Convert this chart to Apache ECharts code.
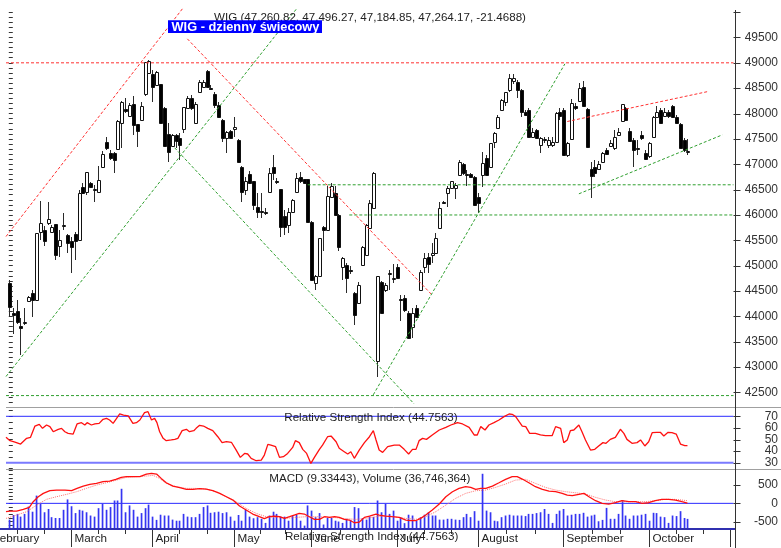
<!DOCTYPE html>
<html><head><meta charset="utf-8">
<script src="https://cdn.jsdelivr.net/npm/echarts@6/dist/echarts.min.js"></script>
<style>html,body{margin:0;padding:0;background:#fff}#c{width:781px;height:548px}</style>
</head><body><div id="c"></div>
<script>
// ---------- calendar (trading days, GPW 2016) ----------
const calendarStart = '2016-02-01';
const firstCandleDate = '2016-02-08';
const calendarEnd = '2016-12-02';
const holidays = ['2016-03-25','2016-03-28','2016-05-03','2016-05-26','2016-08-15','2016-11-01','2016-11-11'];
const monthNames = ['January','February','March','April','May','June','July','August','September','October','November','December'];
const labelMonths = [1,2,3,4,5,6,7,8,9]; // Feb..Oct shown

// ---------- WIG daily candles (from 2016-02-08) ----------
const open = [44668,44071,44110,43815,43874,44313,44459,44327,45674,45707,45851,45674,45820,45392,45796,45609,45477,45628,45510,46561,46462,46640,46506,46462,46943,47436,47220,47220,47298,47811,48093,47961,48186,47791,47876,48383,48797,48777,48566,48580,48119,47594,47369,47580,47515,47699,48119,48304,47811,48422,48533,48842,48507,48383,48172,47876,47515,47659,47699,47482,46955,46496,46811,46660,46167,46072,46068,46462,46955,46664,46510,45970,45806,46068,46462,46758,46707,46707,45871,44668,44800,45772,45707,46364,46431,46003,44984,45017,44909,44459,44262,45017,45215,45741,46135,43111,44688,44524,44850,44751,44984,44347,44361,44077,43801,44164,44524,44984,45169,45215,45248,45741,46265,46431,46530,46530,46792,47008,46815,46811,46758,46364,46792,47121,46955,47448,47712,48073,48237,48468,48645,48631,48468,48040,48073,47535,47679,47383,47490,47383,47383,47448,48034,48073,47186,47496,48152,48257,48533,48087,46904,46955,46904,47054,47285,47364,47318,47580,47862,48107,47659,47482,47324,47580,47220,47153,47535,47929,48073,47955,48040,48152,47929,47797,47482,47260.82];
const close = [44183,44031,43880,43775,43880,44380,44327,45642,45839,45477,45918,45772,45215,45510,45806,45445,45378,45496,46443,46431,46857,46549,46510,46693,47206,47318,47121,47088,47862,48225,48054,48172,47778,47659,48158,49014,49039,48533,48828,47811,47369,47251,47567,47462,47383,48138,48304,48119,48186,48612,48631,48533,48497,48172,47941,47527,47645,47515,47744,47054,46462,46660,46628,46200,46049,46062,46062,46825,46825,46654,45772,45772,46068,46299,46727,46660,46628,45871,44722,44800,45544,45707,46378,46575,46003,45378,45149,44755,44899,44032,44623,45378,45806,46234,46837,44800,44065,44623,44860,44761,44755,44337,44130,43572,44077,43998,44885,45149,45037,45260,45544,46135,46234,46530,46660,46595,47054,46837,46811,46758,46200,46234,47022,46792,47417,47626,47941,48270,48415,48698,48704,48468,48040,47975,47547,47645,47515,47515,47496,47482,47448,48008,47955,47186,47417,48217,48107,48501,48152,47338,46772,46825,47008,47220,47206,47417,47547,47645,48186,47876,47462,47285,47314,47515,47101,47417,47929,48040,47811,48040,47955,47929,47811,47318,47285,47264.17];
const high = [44708,44170,44327,43972,44170,44406,44511,45654,46279,45773,46259,45806,45826,45707,46048,45628,45575,45674,46496,46634,46857,46650,46595,46969,47271,47547,47285,47245,47876,48251,48316,48211,48336,47797,48237,49020,49049,48862,48842,48586,48138,47811,47600,47600,47614,48138,48336,48369,48225,48665,48665,48852,48566,48434,48237,47896,47659,47679,47941,47502,46969,46758,46876,46674,46443,46431,46135,46924,47186,46733,46516,46102,46135,46319,46825,46857,46713,46713,45875,44820,45550,45786,46575,46628,46575,46023,45175,45057,44998,44491,44688,45392,45826,46299,46845,44800,44692,44662,44919,45037,45037,44426,44426,44097,44164,44229,44919,45260,45260,45457,45654,46246,46279,46575,46660,46634,47088,47028,46890,46831,46772,46431,47251,47186,47423,47640,47975,48290,48428,48783,48783,48665,48487,48073,48113,47718,47699,47541,47541,47547,47541,48040,48113,48113,47442,48290,48211,48600,48651,48113,47054,47088,47068,47245,47324,47482,47679,47718,48192,48132,47718,47521,47482,47659,47285,47442,47955,48152,48113,48113,48073,48172,47975,47817,47521,47496.27];
const low = [43998,43657,43854,43243,43834,44308,43986,44317,45510,45392,45806,45668,45116,45181,45707,45248,44854,45116,45490,46417,46398,46536,46246,46457,46943,47285,47088,46837,47285,47318,48014,47935,47580,47350,47856,48336,48783,48237,48546,47797,47354,47042,47344,47318,47088,47620,48113,48073,47797,48408,48527,48527,48468,48119,47935,47448,47220,47502,47547,47048,46265,46398,46614,46102,45938,45938,46003,46457,46693,46614,45575,45609,45642,46062,46457,46640,46614,45865,44712,44524,44781,45280,45688,46358,45993,45280,44722,44459,44840,43834,44248,44998,45195,45727,46121,42815,44051,44485,44524,44662,44741,43900,44091,43558,43578,43972,44505,44854,44854,45051,45234,45727,46220,46167,46516,46313,46772,46792,46575,46733,46180,46037,46561,46772,46949,47318,47699,48054,48152,48428,48586,48304,47941,47955,47541,47521,47502,47231,47423,47324,47344,47442,47876,47166,47141,47482,48073,48251,48133,47324,46332,46758,46892,47028,47186,47344,47285,47561,47856,47856,47442,46943,47186,47482,47088,47127,47521,47916,47797,47935,47916,47916,47797,47305,47245,47184.85];
// volume, millions of shares
const volume = [34,51,55,45,55,82,63,122,92,61,73,43,40,40,70,108,83,58,70,67,61,49,45,76,92,70,80,104,104,147,61,86,70,45,58,76,89,45,33,52,49,49,34,30,30,55,45,43,43,55,80,86,59,61,63,58,61,45,30,51,30,70,45,39,43,37,22,49,63,55,45,45,30,47,51,30,12,86,67,43,58,16,40,40,30,27,22,37,33,80,76,40,34,45,44,104,61,92,55,67,30,43,21,52,49,30,43,52,61,49,49,34,34,37,37,34,33,43,55,43,65,30,202,67,61,30,28,43,49,52,49,49,49,47,55,55,58,61,73,55,22,55,67,73,49,52,55,55,59,45,49,52,28,33,77,37,37,55,106,49,37,49,49,52,55,30,59,58,45,43,22,49,47,65,40,36.7];

// ---------- indicators, read as [day position, value] ----------
const rsiPts = [[-0.72,51.9],[0.31,49.0],[1.6,47.8],[3.05,46.1],[4.6,51.0],[5.6,51.9],[6.74,61.6],[7.86,63.1],[8.7,59.6],[9.74,62.5],[10.6,61.1],[11.46,56.7],[12.75,58.8],[13.6,59.6],[14.46,56.7],[15.3,55.3],[16.6,54.7],[17.6,63.4],[18.75,64.5],[19.6,62.5],[20.2,64.5],[21.3,62.5],[22.2,63.4],[23.3,63.9],[24.3,67.4],[25.2,68.2],[26.0,66.8],[26.9,63.9],[27.8,68.2],[28.6,72.0],[29.6,71.1],[30.8,70.3],[32.0,63.9],[32.9,64.5],[33.8,66.8],[35.0,73.1],[35.9,74.0],[36.8,66.8],[37.6,68.2],[38.2,64.5],[38.9,56.7],[39.8,51.0],[40.6,49.0],[41.9,49.6],[42.8,50.1],[43.6,51.0],[44.7,57.6],[45.8,58.8],[46.6,56.7],[47.7,57.6],[48.3,59.6],[49.2,62.2],[50.2,61.6],[51.3,59.6],[52.6,57.6],[53.9,52.4],[55.0,47.3],[56.1,48.1],[57.4,47.6],[58.6,41.0],[59.7,34.6],[60.8,38.0],[61.6,37.5],[62.5,33.8],[63.8,31.7],[65.1,32.3],[65.9,36.6],[66.8,45.8],[67.6,45.2],[68.8,43.8],[69.8,34.6],[70.8,35.2],[71.9,38.0],[73.2,43.2],[73.9,49.0],[74.9,47.3],[75.8,41.5],[76.8,38.0],[77.9,29.4],[78.8,34.6],[80.1,41.5],[80.9,45.2],[81.4,46.7],[82.2,52.4],[83.1,53.0],[84.4,48.1],[85.2,42.4],[86.5,39.5],[87.4,37.5],[88.2,39.5],[89.1,33.8],[90.4,41.0],[91.7,47.3],[93.0,52.4],[94.0,57.6],[94.7,49.6],[95.5,40.9],[96.4,38.9],[97.7,43.8],[99.4,45.2],[100.7,45.2],[101.95,41.5],[103.1,37.5],[104.1,41.5],[105.0,41.5],[105.8,49.0],[106.7,51.0],[107.7,50.1],[109.2,53.9],[111.0,58.2],[112.7,60.5],[114.0,62.5],[114.8,63.4],[115.7,64.5],[117.0,63.4],[118.7,60.5],[120.0,53.9],[120.8,53.9],[121.7,61.1],[122.8,58.2],[123.8,62.5],[125.1,64.5],[126.4,66.8],[127.7,69.7],[129.0,72.0],[129.8,71.7],[130.7,69.7],[131.6,65.4],[132.4,61.6],[133.3,61.1],[134.3,55.3],[135.8,55.3],[137.1,53.9],[138.4,53.3],[140.1,53.3],[141.0,61.1],[142.3,59.6],[143.1,47.3],[144.0,49.6],[144.8,57.6],[145.7,58.2],[147.0,62.5],[147.8,56.7],[148.7,49.6],[150.0,40.9],[151.1,41.5],[152.1,44.4],[153.2,47.3],[154.0,46.7],[155.1,50.1],[156.4,51.9],[157.7,58.8],[158.6,55.3],[159.4,50.1],[160.7,46.7],[162.0,47.3],[162.9,49.6],[164.0,44.4],[165.0,48.1],[165.9,55.9],[167.1,56.2],[168.0,56.2],[168.9,53.0],[170.0,56.2],[171.0,55.9],[172.1,54.7],[173.2,46.1],[174.3,44.7],[175.0,44.76]];
const macdPts = [[-0.72,-229],[0.31,-211],[2.0,-211],[3.74,-165],[5.3,-110],[6.3,45],[7.6,182],[8.9,273],[10.6,346],[12.3,364],[14.5,364],[16.2,346],[17.6,410],[19.2,474],[20.9,520],[22.6,547],[24.3,593],[26,611],[27.6,657],[29,711],[30.3,730],[32,730],[33.8,730],[35.5,803],[36.8,821],[38.1,803],[39.3,684],[40.6,565],[42.3,474],[44.1,428],[45.8,383],[47.5,383],[49.2,401],[50.9,392],[52.6,346],[54.4,273],[56.1,182],[57.8,90],[59.5,-74],[61.2,-183],[62.9,-293],[64.6,-366],[65.9,-421],[67.2,-366],[68.5,-348],[69.8,-366],[71.1,-412],[72.4,-366],[73.6,-320],[74.9,-275],[76.2,-293],[77.5,-366],[78.8,-439],[80.1,-439],[81.4,-366],[82.7,-384],[84,-366],[85.2,-384],[86.5,-439],[87.8,-457],[89.1,-531],[90.4,-512],[91.7,-384],[93,-348],[94.7,-293],[95.5,-320],[97.2,-348],[98.9,-366],[100.7,-384],[102.4,-457],[103.7,-476],[104.9,-476],[106.2,-412],[107.5,-320],[109.2,-184],[111,-19],[112.7,182],[114.4,319],[116.1,410],[117.8,456],[119.1,437],[120.4,383],[121.7,410],[123,410],[124.7,474],[126.4,565],[128.1,657],[129.8,730],[131.1,730],[132.4,666],[134.1,565],[135.8,456],[137.6,383],[139.3,337],[141,319],[142.7,273],[144,227],[145.3,209],[147,246],[148.3,273],[149.6,182],[151.3,72],[153,-1],[154.7,-19],[156.4,17],[158.1,72],[159.9,45],[161.6,45],[163.3,-1],[165,17],[166.7,72],[168.4,109],[170.2,109],[171.9,90],[173.6,45],[175,9.3]];
const signalPts = [[-0.72,-412],[2.0,-320],[4.6,-229],[7.2,-47],[9.7,109],[12.3,182],[14.9,246],[17.5,319],[20,410],[22.6,501],[25.2,565],[27.8,638],[30.3,711],[32.9,730],[35.5,748],[37.2,766],[38.9,684],[40.6,547],[43.2,456],[45.8,410],[48.3,410],[50.9,392],[53.5,319],[56.1,182],[58.6,45],[61.2,-138],[63.8,-275],[66.4,-366],[68.9,-384],[71.5,-412],[74.1,-384],[76.7,-366],[80.1,-366],[83.5,-384],[87,-421],[89.5,-439],[92.1,-412],[94.7,-366],[97.2,-348],[98.9,-366],[102.4,-412],[104.9,-439],[107.5,-366],[110.1,-229],[112.7,-47],[115.2,136],[117.8,273],[120.4,346],[123,364],[125.5,437],[128.1,529],[130.7,638],[133.3,657],[135.8,547],[138.4,437],[141,364],[143.6,319],[146.1,291],[148.7,255],[151.3,164],[153.9,90],[156.4,45],[159,45],[161.6,45],[164.1,45],[166.7,72],[169.3,109],[171.9,109],[173.6,90],[175,72]];

// ---------- drawn trend lines, [day position, index value] ----------
const redLines = [[[-0.72,49000],[186.87,49000]],[[-0.72,45575],[44.9,50078]],[[46.04,49473],[109.1,44426]],[[144.0,47843],[180.3,48434]]];
const greenLines = [[[-0.72,42815],[74.4,50084]],[[42.77,47324],[104.5,42277]],[[93.98,42454],[143.4,48980]],[[77.07,46595],[186.87,46595]],[[87.8,46000],[186.87,46000]],[[-0.72,42439],[186.87,42439]],[[147.0,46417],[184.0,47580]]];

// ---------- axis ticks ----------
const mainMajor = [42500,43000,43500,44000,44500,45000,45500,46000,46500,47000,47500,48000,48500,49000,49500,50000];
const rsiMajor = [30,40,50,60,70];
const macdMajor = [-500,0,500];

// ---------- texts ----------
const titleText = 'WIG (47,260.82, 47,496.27, 47,184.85, 47,264.17, -21.4688)';
const boxText = 'WIG - dzienny świecowy';
const rsiText = 'Relative Strength Index (44.7563)';
const macdText = 'MACD (9.33443), Volume (36,746,364)';

// ===== build trading calendar =====
function ds(d){return d.toISOString().slice(0,10);}
const days = [];
for (let d = new Date(calendarStart+'T00:00:00Z'); ds(d) <= calendarEnd; d.setUTCDate(d.getUTCDate()+1)) {
  const wd = d.getUTCDay();
  if (wd === 0 || wd === 6) continue;
  if (holidays.includes(ds(d))) continue;
  days.push(ds(d));
}
const offset = days.indexOf(firstCandleDate);
const monthStart = {};
days.forEach((s, k) => { const m = +s.slice(5,7) - 1; if (!(m in monthStart)) monthStart[m] = k - offset; });
const xMin = -0.72, xMax = 186.87;
const xTicks = [];
const mKeys = Object.keys(monthStart).map(Number).sort((a,b)=>a-b);
for (let j = 0; j < mKeys.length - 1; j++) {
  const a = monthStart[mKeys[j]], b = monthStart[mKeys[j+1]];
  xTicks.push([a, 1, labelMonths.includes(mKeys[j]) ? monthNames[mKeys[j]] : '']);
  xTicks.push([a + (b-a)/3, 0, '']);
  xTicks.push([a + 2*(b-a)/3, 0, '']);
}
const xTicksVis = xTicks.filter(t => t[0] >= -12 && t[0] <= xMax);

const candleData = open.map((o,i)=>[i, o, close[i], low[i], high[i]]);
const volData = volume.map((v,i)=>[i, v]);

const FONT = "'Liberation Sans', Arial, sans-serif";
const chart = echarts.init(document.getElementById('c'), null, {renderer:'canvas'});

function candle(params, api){
  const i = api.value(0), o = api.value(1), c = api.value(2), l = api.value(3), h = api.value(4);
  const pO = api.coord([i,o]), pC = api.coord([i,c]), pL = api.coord([i,l]), pH = api.coord([i,h]);
  const cx = Math.round(pO[0]) + 0.5;
  let top = Math.round(Math.min(pO[1],pC[1])) + 0.5, bot = Math.round(Math.max(pO[1],pC[1])) + 0.5;
  if (bot - top < 1) bot = top + 1;
  const up = c >= o;
  return {type:'group', children:[
    {type:'line', shape:{x1:cx, y1:Math.round(pH[1]), x2:cx, y2:Math.round(pL[1])}, style:{stroke:'#2a2a2a', lineWidth:1}},
    {type:'rect', shape:{x:cx-1, y:top, width:3, height:bot-top}, style:{fill: up ? '#fff' : '#000', stroke:'#111', lineWidth:1}}
  ]};
}
function volBar(params, api){
  const p0 = api.coord([api.value(0), 0]), p1 = api.coord([api.value(0), api.value(1)]);
  const x = Math.round(p0[0]);
  return {type:'rect', shape:{x:x-0.3, y:p1[1], width:1.7, height:p0[1]-p1[1]}, style:{fill:'#3535f2'}};
}
function majorTick(params, api){
  const p = api.coord([xMax, api.value(0)]);
  const y = Math.round(p[1]) + 0.5;
  return {type:'line', shape:{x1:p[0], y1:y, x2:p[0]+7, y2:y}, style:{stroke:'#333', lineWidth:1}};
}
function xTick(params, api){
  const pos = api.value(0), kind = api.value(1);
  const p = api.coord([pos, -700]);
  const x = Math.round(p[0]) + 0.5;
  const y0 = 529;
  const children = [{type:'line', shape:{x1:x, y1:y0, x2:x, y2: kind ? 547 : 534}, style:{stroke:'#333', lineWidth:1}}];
  const lbl = xTicksVis[params.dataIndex][2];
  if (lbl) children.push({type:'text', x:x+3, y:539, style:{text:lbl, font:"11.7px "+FONT, fill:'#222', verticalAlign:'middle', align:'left'}});
  return {type:'group', children};
}

function yAx(grid, min, max, interval, fmt){
  return {type:'value', gridIndex:grid, position:'right', min, max, interval,
    axisLine:{show:false}, splitLine:{show:false},
    axisTick:{show:true, length:4, lineStyle:{color:'#333'}},
    axisLabel:{show:true, formatter:fmt, align:'right', margin:44.5, color:'#333', fontSize:12, fontFamily:FONT}};
}
function hLine(xi, yi, v, color, w){
  return {type:'line', xAxisIndex:xi, yAxisIndex:yi, data:[[xMin,v],[xMax,v]], symbol:'none', silent:true, animation:false,
    lineStyle:{color, width:w}, z:1};
}

const series = [];
redLines.concat(greenLines).forEach((ln, k) => {
  series.push({type:'line', xAxisIndex:0, yAxisIndex:0, data:ln, symbol:'none', clip:false, silent:true, animation:false, z:4,
    lineStyle:{color: k < redLines.length ? '#ff3030' : '#2f9f2f', width:1, type:[3,2]}});
});
series.push({type:'custom', xAxisIndex:0, yAxisIndex:0, data:candleData, renderItem:candle, encode:{x:0, y:[1,2,3,4]}, z:3, animation:false, silent:true});
series.push({type:'custom', xAxisIndex:0, yAxisIndex:0, data:mainMajor.map(v=>[v]), renderItem:majorTick, encode:{y:0}, animation:false, silent:true});
// RSI
series.push(hLine(1,1,70,'#2a2aff',1));
series.push(hLine(1,1,30,'#7a7aff',2));
series.push({type:'line', xAxisIndex:1, yAxisIndex:1, data:rsiPts, symbol:'none', animation:false, silent:true, lineStyle:{color:'#ff1010', width:1.3}, z:3});
series.push({type:'custom', xAxisIndex:1, yAxisIndex:1, data:rsiMajor.map(v=>[v]), renderItem:majorTick, encode:{y:0}, animation:false, silent:true});
// MACD + volume
series.push({type:'custom', xAxisIndex:2, yAxisIndex:3, data:volData, renderItem:volBar, encode:{x:0, y:1}, animation:false, silent:true, z:2});
series.push(hLine(2,2,0,'#2a2aff',1));
series.push({type:'line', xAxisIndex:2, yAxisIndex:2, data:signalPts, symbol:'none', animation:false, silent:true, lineStyle:{color:'#ff7070', width:1, type:'dotted'}, z:3});
series.push({type:'line', xAxisIndex:2, yAxisIndex:2, data:macdPts, symbol:'none', animation:false, silent:true, lineStyle:{color:'#ff1010', width:1.3}, z:4});
series.push({type:'custom', xAxisIndex:2, yAxisIndex:2, data:macdMajor.map(v=>[v]), renderItem:majorTick, encode:{y:0}, animation:false, silent:true});
series.push({type:'custom', xAxisIndex:2, yAxisIndex:2, data:xTicksVis.map(t=>[t[0], t[1]]), renderItem:xTick, encode:{x:0}, animation:false, silent:true});

const option = {
  animation:false,
  grid:[
    {left:6, width:729, top:12.1, height:395.6},
    {left:6, width:729, top:410.5, height:58},
    {left:6, width:729, top:470.5, height:58.4}
  ],
  xAxis:[0,1,2].map(g=>({type:'value', gridIndex:g, min:xMin, max:xMax, show:false})),
  yAxis:[
    yAx(0, 42200, 50000, 100, v => (v % 500 === 0 && v < 50000) ? String(v) : ''),
    yAx(1, 25, 75, 5, v => (v % 10 === 0 && v >= 30 && v <= 70) ? String(v) : ''),
    yAx(2, -700, 900, 100, v => (v === -500 || v === 0 || v === 500) ? String(v) : ''),
    {type:'value', gridIndex:2, min:0, max:214, show:false}
  ],
  series,
  graphic:[
    {type:'line', z:50, shape:{x1:6, y1:407.5, x2:781, y2:407.5}, style:{stroke:'#a0a0a0', lineWidth:1}},
    {type:'line', z:50, shape:{x1:6, y1:469.5, x2:781, y2:469.5}, style:{stroke:'#a0a0a0', lineWidth:1}},
    {type:'line', z:50, shape:{x1:0, y1:529, x2:735, y2:529}, style:{stroke:'#3030b0', lineWidth:2}},
    {type:'line', z:50, shape:{x1:735.5, y1:10, x2:735.5, y2:548}, style:{stroke:'#333', lineWidth:1}},
    {type:'text', z:60, x:214, y:17.3, style:{text:titleText, font:"11.6px "+FONT, fill:'#222', verticalAlign:'middle', align:'left'}},
    {type:'rect', z:60, shape:{x:168, y:20.3, width:154, height:12.8}, style:{fill:'#0000ff'}},
    {type:'text', z:61, x:171.5, y:27, style:{text:boxText, font:"bold 12.8px "+FONT, fill:'#fff', verticalAlign:'middle', align:'left'}},
    {type:'text', z:60, x:284.3, y:417.3, style:{text:rsiText, font:"11.6px "+FONT, fill:'#222', verticalAlign:'middle', align:'left'}},
    {type:'text', z:60, x:269.3, y:479, style:{text:macdText, font:"11.6px "+FONT, fill:'#222', verticalAlign:'middle', align:'left'}},
    {type:'text', z:60, x:285, y:537.2, style:{text:rsiText, font:"11.6px "+FONT, fill:'#222', verticalAlign:'middle', align:'left'}}
  ]
};
chart.setOption(option);
</script></body></html>
